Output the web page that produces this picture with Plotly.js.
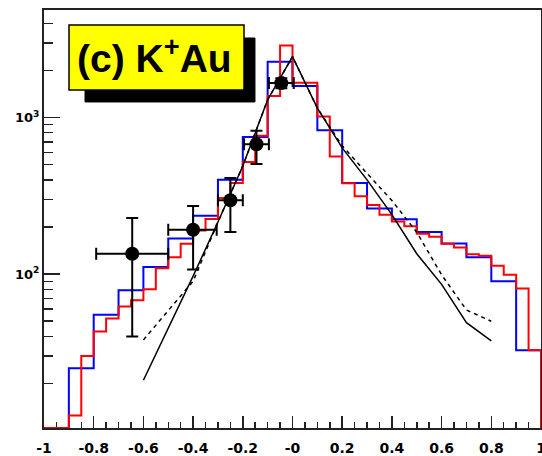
<!DOCTYPE html>
<html><head><meta charset="utf-8">
<script src="https://cdn.plot.ly/plotly-3.0.1.min.js"></script>
<style>html,body{margin:0;padding:0;background:#fff}#chart{width:542px;height:456px}</style>
</head><body><div id="chart"></div>
<script>
// ---- data ----
const blueEdges = [-1,-0.9,-0.8,-0.7,-0.6,-0.5,-0.4,-0.3,-0.2,-0.1,0,0.1,0.2,0.3,0.4,0.5,0.6,0.7,0.8,0.9,1];
const blueCounts = [0,25,55,79,111,169,236,400,750,2270,1590,830,382,262,224,186,157,128,90,32.6];

const redEdges = [-1,-0.95,-0.9,-0.85,-0.8,-0.75,-0.7,-0.65,-0.6,-0.55,-0.5,-0.45,-0.4,-0.35,-0.3,-0.25,-0.2,-0.15,-0.1,-0.05,
                  0,0.05,0.1,0.15,0.2,0.25,0.3,0.35,0.4,0.45,0.5,0.55,0.6,0.65,0.7,0.75,0.8,0.85,0.9,0.95,1];
const redCounts = [0,0,12.5,30,43,52,62,68,80,109,128,156,190,225,306,382,520,765,1375,2890,
                   1670,1670,1014,563,381,314,276,239,217,202,181,173,156,148,134,131,113,99,81,32.6];

const dataX = [-0.645,-0.40,-0.25,-0.145,-0.045];
const dataY = [135,192,296,675,1660];
const dataXErrMinus = [0.145,0.10,0.05,0.05,0.05];
const dataXErrPlus  = [0.145,0.095,0.05,0.05,0.05];
const dataYErrPlus  = [93,80,115,150,120];
const dataYErrMinus = [95,85,110,170,120];

const modelX  = [-0.6,-0.5,-0.4,-0.3,-0.2,-0.1,0,0.1,0.2,0.3,0.4,0.5,0.6,0.7,0.8];
const solidY  = [21,45,97,215,490,1300,2450,1150,640,400,240,135,86,49,37.5];
const dashedY = [38,58,90,215,490,1300,2450,1150,660,440,295,185,99,59,50];

const xTickVals = [-1,-0.8,-0.6,-0.4,-0.2,0,0.2,0.4,0.6,0.8,1];
const xTickText = ['-1','-0.8','-0.6','-0.4','-0.2','-0','0.2','0.4','0.6','0.8','1'];
const xMinorVals = [-0.95,-0.9,-0.85,-0.75,-0.7,-0.65,-0.55,-0.5,-0.45,-0.35,-0.3,-0.25,-0.15,-0.1,-0.05,
                    0.05,0.1,0.15,0.25,0.3,0.35,0.45,0.5,0.55,0.65,0.7,0.75,0.85,0.9,0.95];
const yTickVals = [100,1000];
const yTickText = ['10<sup>2</sup>','10<sup>3</sup>'];
const yMinorVals = [20,30,40,50,60,70,80,90,200,300,400,500,600,700,800,900,2000,3000,4000];
const labelText = '(c) K<sup>+</sup>Au';

// ---- drawing ----
const yLogRange = [1.017, 3.687];
const floorVal = Math.pow(10, yLogRange[0]);

function stepTrace(edges, counts, color) {
  const y = counts.map(v => Math.max(v, floorVal)).concat([floorVal]);
  return {x: edges, y: y, type: 'scatter', mode: 'lines',
          line: {shape: 'hv', color: color, width: 2}, hoverinfo: 'skip', showlegend: false};
}

const traces = [
  stepTrace(blueEdges, blueCounts, '#0000ff'),
  stepTrace(redEdges, redCounts, '#ff0000'),
  {x: modelX, y: solidY, type: 'scatter', mode: 'lines',
   line: {color: '#000', width: 1.5}, showlegend: false},
  {x: modelX, y: dashedY, type: 'scatter', mode: 'lines',
   line: {color: '#000', width: 1.5, dash: '4px,4px'}, showlegend: false},
  {x: dataX, y: dataY, type: 'scatter', mode: 'markers',
   marker: {color: '#000', size: 14, symbol: 'circle'},
   error_x: {type: 'data', symmetric: false, array: dataXErrPlus, arrayminus: dataXErrMinus,
             color: '#000', thickness: 2, width: 6},
   error_y: {type: 'data', symmetric: false, array: dataYErrPlus, arrayminus: dataYErrMinus,
             color: '#000', thickness: 2, width: 6},
   showlegend: false}
];

const layout = {
  width: 542, height: 456,
  margin: {l: 44, r: 1, t: 10, b: 28, pad: 0},
  paper_bgcolor: '#fff', plot_bgcolor: '#fff',
  showlegend: false,
  xaxis: {
    range: [-1, 1], showgrid: false, zeroline: false,
    showline: true, linecolor: '#222', linewidth: 2, mirror: true,
    tickmode: 'array', tickvals: xTickVals, ticktext: xTickText,
    ticks: 'inside', ticklen: 12, tickwidth: 1.5, tickcolor: '#222',
    minor: {tickmode: 'array', tickvals: xMinorVals, ticks: 'inside', ticklen: 6, tickwidth: 1.5, tickcolor: '#222'},
    tickfont: {family: 'DejaVu Sans', size: 14, color: '#000', weight: 'bold'},
    ticklabeloverflow: 'allow', ticklabelstandoff: 6, layer: 'below traces'
  },
  yaxis: {
    type: 'log', range: yLogRange, showgrid: false, zeroline: false,
    showline: true, linecolor: '#222', linewidth: 2, mirror: true,
    tickmode: 'array', tickvals: yTickVals, ticktext: yTickText,
    ticks: 'inside', ticklen: 16, tickwidth: 1.5, tickcolor: '#222',
    minor: {tickmode: 'array', tickvals: yMinorVals, ticks: 'inside', ticklen: 9, tickwidth: 1.5, tickcolor: '#222'},
    tickfont: {family: 'DejaVu Sans', size: 13, color: '#000', weight: 'bold'},
    ticklabeloverflow: 'allow', layer: 'below traces'
  },
  shapes: [
    {type: 'rect', xref: 'paper', yref: 'paper', x0: 0.0825, x1: 0.4245, y0: 0.780, y1: 0.933,
     fillcolor: '#000', line: {color: '#000', width: 1}, layer: 'above'},
    {type: 'rect', xref: 'paper', yref: 'paper', x0: 0.0503, x1: 0.4024, y0: 0.8086, y1: 0.9641,
     fillcolor: '#ffff00', line: {color: '#000', width: 1.5}, layer: 'above'}
  ],
  annotations: [
    {xref: 'paper', yref: 'paper', x: 0.2223, y: 0.892, xanchor: 'center', yanchor: 'middle',
     text: labelText, showarrow: false,
     font: {family: 'Liberation Sans', size: 39, color: '#000', weight: 'bold'}}
  ]
};

Plotly.newPlot('chart', traces, layout, {staticPlot: true, displayModeBar: false});
</script>
</body></html>
